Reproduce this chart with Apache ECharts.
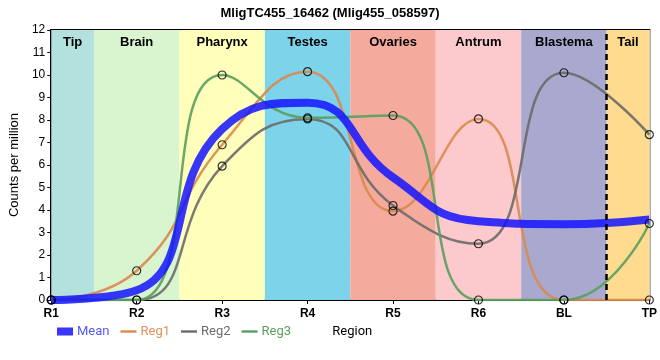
<!DOCTYPE html>
<html><head><meta charset="utf-8">
<script src="https://cdn.jsdelivr.net/npm/echarts@6/dist/echarts.min.js"></script>
<style>html,body{margin:0;padding:0;background:#fff}#c{width:660px;height:360px}</style>
</head><body><div id="c"></div>
<script>
var categories = ['R1','R2','R3','R4','R5','R6','BL','TP'];
var reg1 = [0, 1.3, 6.9, 10.15, 3.95, 8.05, 0, 0];
var reg2 = [0, 0, 5.95, 8.05, 4.2, 2.5, 10.1, 7.35];
var reg3 = [0, 0, 10.0, 8.1, 8.2, 0, 0, 3.4];
var mean = [0, 0.43, 7.6, 8.77, 5.45, 3.5, 3.37, 3.58];
var regionNames = ['Tip','Brain','Pharynx','Testes','Ovaries','Antrum','Blastema','Tail'];
var regionStart = [0, 0.5, 1.5, 2.5, 3.5, 4.5, 5.5, 6.5];
var regionEnd = [0.5, 1.5, 2.5, 3.5, 4.5, 5.5, 6.5, 7];
var regionColors = ['#b3e1de','#d8f5d0','#ffffbb','#7dd3ea','#f5aa9e','#fccacc','#a9a8ce','#fedb8e'];
var yTicks = [0,1,2,3,4,5,6,7,8,9,10,11,12];

function pts(arr){ return arr.map(function(v,i){ return [i, v]; }); }

var font = '"Liberation Sans", Arial, sans-serif';
var chart = echarts.init(document.getElementById('c'));
var areas = regionNames.map(function(n,i){
  return [{xAxis: regionStart[i], name: n, itemStyle:{color: regionColors[i], opacity:1}}, {xAxis: regionEnd[i]}];
});
var lineCommon = {type:'line', smooth:0.5, symbol:'none', z:3};
var c1 = '#d98a4e', c2 = '#6b6b6b', c3 = '#5a9e5e', cm = 'rgba(20,20,255,0.85)';
function markers(arr){
  return {type:'scatter', data: pts(arr), symbol:'circle', symbolSize:8, z:5, silent:true,
    itemStyle:{color:'rgba(0,0,0,0)', borderColor:'#000', borderWidth:1.2}, tooltip:{show:false}};
}
var thinIcon = 'path://M0,0L20,0L20,3L0,3Z';
chart.setOption({
  animation:false,
  title:{text:'MligTC455_16462 (Mlig455_058597)', left:'center', top:2,
    textStyle:{fontFamily:font, fontSize:13, fontWeight:'bold', color:'#000'}},
  grid:{left:50, right:10, top:30, bottom:60, show:true, borderColor:'#000', borderWidth:2, containLabel:false},
  legend:{top:320, left:52, itemGap:11, itemWidth:16, itemHeight:8,
    textStyle:{fontFamily:'Roboto, sans-serif', fontSize:13, padding:[0,0,0,-1]},
    data:[
      {name:'Mean', icon:'rect', textStyle:{color:'#5858f5'}},
      {name:'Reg1', icon:thinIcon, textStyle:{color:'#e0905a'}},
      {name:'Reg2', icon:thinIcon, textStyle:{color:'#6b6b6b'}},
      {name:'Reg3', icon:thinIcon, textStyle:{color:'#5a9e5e'}}
    ]},
  xAxis:{type:'value', min:0, max:7, interval:1, name:'Region', nameLocation:'middle', nameGap:24,
    nameTextStyle:{fontFamily:'Roboto, sans-serif', fontSize:13, color:'#000', padding:[0,0,0,4]},
    axisLine:{lineStyle:{color:'#000', width:2}},
    axisTick:{show:true, length:4, lineStyle:{color:'#000'}},
    axisLabel:{fontFamily:font, fontWeight:'bold', fontSize:12, color:'#000', margin:8,
      formatter:function(v){ return categories[v] || ''; }},
    splitLine:{show:true, lineStyle:{color:'#cccccc', width:1}}},
  yAxis:{type:'value', min:0, max:12, interval:1, name:'Counts per million', nameLocation:'middle', nameGap:26,
    nameTextStyle:{fontFamily:font, fontSize:13, color:'#000'},
    axisLine:{show:true, lineStyle:{color:'#000', width:2}},
    axisTick:{show:true, length:4, lineStyle:{color:'#000'}},
    axisLabel:{fontFamily:font, fontSize:12, color:'#000', margin:6,
      formatter:function(v){ return yTicks.indexOf(v) >= 0 ? String(v) : ''; }},
    splitLine:{show:true, lineStyle:{color:'#cccccc', width:1}}},
  series:[
    {type:'line', name:'bg', data:[], silent:true, z:0,
      markArea:{silent:true, data:areas, label:{show:true, position:'insideTop', distance:6,
        fontFamily:font, fontSize:13, fontWeight:'bold', color:'#000'}},
      markLine:{silent:true, symbol:'none', data:[{xAxis:6.5}], label:{show:false},
        lineStyle:{color:'#000', type:[6,4], width:2.5}}},
    Object.assign({}, lineCommon, {name:'Reg1', data:pts(reg1), color:c1, lineStyle:{color:c1, width:2.5, opacity:0.9}}),
    Object.assign({}, lineCommon, {name:'Reg2', data:pts(reg2), color:c2, lineStyle:{color:c2, width:2.5, opacity:0.9}}),
    Object.assign({}, lineCommon, {name:'Reg3', data:pts(reg3), color:c3, lineStyle:{color:c3, width:2.5, opacity:0.9}}),
    Object.assign({}, lineCommon, {name:'Mean', data:pts(mean), color:cm, lineStyle:{color:cm, width:8}, z:4}),
    markers(reg1), markers(reg2), markers(reg3)
  ]
});
</script></body></html>
